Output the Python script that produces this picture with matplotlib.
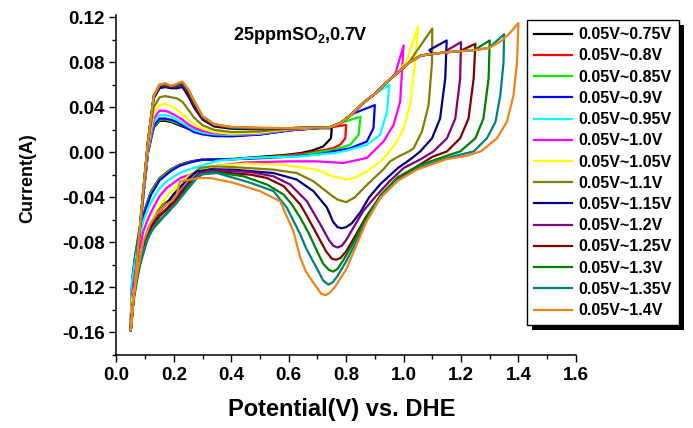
import numpy as np
import matplotlib.pyplot as plt
from matplotlib.patches import Rectangle
from matplotlib.ticker import MultipleLocator, FormatStrFormatter

plt.rcParams['font.family'] = ['Liberation Sans', 'DejaVu Sans']
plt.rcParams['font.weight'] = 'bold'
plt.rcParams['mathtext.fontset'] = 'custom'
plt.rcParams['mathtext.bf'] = 'Liberation Sans:bold'
plt.rcParams['mathtext.rm'] = 'Liberation Sans:bold'

labels = ['0.05V~0.75V', '0.05V~0.8V', '0.05V~0.85V', '0.05V~0.9V', '0.05V~0.95V',
          '0.05V~1.0V', '0.05V~1.05V', '0.05V~1.1V', '0.05V~1.15V', '0.05V~1.2V',
          '0.05V~1.25V', '0.05V~1.3V', '0.05V~1.35V', '0.05V~1.4V']
upper_limits = [0.75, 0.80, 0.85, 0.90, 0.95, 1.00, 1.05, 1.10, 1.15, 1.20, 1.25, 1.30, 1.35, 1.40]
colors = ['#000000', '#ff0000', '#00ee00', '#0000ff', '#00ffff', '#ff00ff', '#ffff00',
          '#808000', '#000080', '#800080', '#800000', '#008000', '#008080', '#f08418']

# anodic scan, hydrogen region (same potentials for every curve)
h_v = [0.05, 0.07, 0.09, 0.11, 0.13, 0.15, 0.17, 0.19, 0.21, 0.23, 0.25, 0.27, 0.30, 0.34, 0.40, 0.50, 0.60, 0.70]
h_i = [
    [-0.158, -0.102, -0.047, 0.000, 0.022, 0.028, 0.028, 0.027, 0.025, 0.023, 0.021, 0.019, 0.017, 0.0155, 0.0148, 0.016, 0.0195, 0.0215],
    [-0.158, -0.102, -0.047, 0.000, 0.023, 0.029, 0.029, 0.028, 0.026, 0.024, 0.021, 0.019, 0.017, 0.0155, 0.0148, 0.016, 0.0195, 0.0215],
    [-0.158, -0.102, -0.047, 0.001, 0.023, 0.029, 0.0295, 0.028, 0.026, 0.024, 0.022, 0.0195, 0.0172, 0.0158, 0.015, 0.0162, 0.0197, 0.0217],
    [-0.158, -0.102, -0.047, 0.001, 0.024, 0.030, 0.030, 0.029, 0.027, 0.024, 0.021, 0.018, 0.016, 0.0145, 0.0142, 0.0158, 0.0195, 0.0215],
    [-0.158, -0.102, -0.047, 0.002, 0.027, 0.033, 0.033, 0.032, 0.029, 0.026, 0.023, 0.020, 0.0175, 0.016, 0.0155, 0.0165, 0.020, 0.0218],
    [-0.158, -0.102, -0.047, 0.003, 0.030, 0.037, 0.037, 0.035, 0.032, 0.029, 0.025, 0.022, 0.019, 0.017, 0.016, 0.017, 0.020, 0.022],
    [-0.158, -0.102, -0.046, 0.005, 0.035, 0.042, 0.043, 0.041, 0.038, 0.034, 0.029, 0.025, 0.021, 0.018, 0.0165, 0.0175, 0.0205, 0.022],
    [-0.158, -0.101, -0.045, 0.008, 0.040, 0.049, 0.050, 0.049, 0.048, 0.045, 0.038, 0.031, 0.024, 0.020, 0.018, 0.0185, 0.021, 0.022],
    [-0.158, -0.100, -0.044, 0.010, 0.048, 0.057, 0.058, 0.057, 0.057, 0.058, 0.050, 0.040, 0.029, 0.023, 0.021, 0.0205, 0.0215, 0.022],
    [-0.158, -0.100, -0.044, 0.010, 0.050, 0.059, 0.059, 0.058, 0.059, 0.060, 0.053, 0.042, 0.030, 0.024, 0.022, 0.021, 0.0215, 0.022],
    [-0.158, -0.100, -0.044, 0.010, 0.050, 0.059, 0.060, 0.058, 0.059, 0.061, 0.054, 0.043, 0.031, 0.024, 0.022, 0.021, 0.0215, 0.022],
    [-0.158, -0.100, -0.043, 0.010, 0.050, 0.060, 0.060, 0.059, 0.060, 0.062, 0.055, 0.045, 0.032, 0.025, 0.022, 0.0215, 0.0215, 0.022],
    [-0.158, -0.100, -0.043, 0.010, 0.050, 0.060, 0.061, 0.059, 0.060, 0.062, 0.056, 0.046, 0.032, 0.025, 0.0225, 0.0215, 0.0215, 0.022],
    [-0.158, -0.100, -0.043, 0.010, 0.050, 0.060, 0.0615, 0.059, 0.061, 0.063, 0.056, 0.046, 0.032, 0.025, 0.0225, 0.022, 0.0215, 0.022],
]

# anodic scan, oxide region (shared path)
ox_v = [0.74, 0.78, 0.82, 0.86, 0.90, 0.94, 0.98, 1.02, 1.06, 1.10, 1.15, 1.20, 1.25, 1.30, 1.34, 1.37]
ox_i = [0.022, 0.026, 0.034, 0.044, 0.052, 0.062, 0.071, 0.080, 0.086, 0.0875, 0.089, 0.090, 0.091, 0.093, 0.099, 0.106]

# turning point and cathodic scan back to 0.05 V
ret_v = [
    [0.75, 0.747, 0.72, 0.68, 0.64, 0.58, 0.52, 0.41, 0.30, 0.26, 0.22, 0.19, 0.15, 0.12, 0.10, 0.08, 0.065, 0.055, 0.05],
    [0.80, 0.797, 0.78, 0.756, 0.70, 0.663, 0.60, 0.524, 0.41, 0.30, 0.26, 0.22, 0.19, 0.15, 0.12, 0.10, 0.08, 0.065, 0.055, 0.05],
    [0.85, 0.843, 0.814, 0.756, 0.70, 0.64, 0.52, 0.41, 0.30, 0.26, 0.22, 0.19, 0.15, 0.12, 0.10, 0.08, 0.065, 0.055, 0.05],
    [0.90, 0.895, 0.872, 0.814, 0.75, 0.698, 0.60, 0.524, 0.41, 0.29, 0.26, 0.22, 0.19, 0.15, 0.12, 0.10, 0.08, 0.065, 0.055, 0.05],
    [0.95, 0.942, 0.918, 0.872, 0.80, 0.756, 0.64, 0.466, 0.35, 0.29, 0.25, 0.22, 0.175, 0.15, 0.129, 0.11, 0.094, 0.071, 0.053, 0.05],
    [0.97, 1.00, 0.988, 0.965, 0.93, 0.872, 0.79, 0.698, 0.60, 0.45, 0.35, 0.29, 0.222, 0.175, 0.15, 0.129, 0.11, 0.094, 0.071, 0.055, 0.05],
    [1.01, 1.05, 1.04, 1.023, 1.00, 0.977, 0.942, 0.92, 0.872, 0.83, 0.80, 0.75, 0.698, 0.582, 0.45, 0.35, 0.30, 0.257, 0.21, 0.175, 0.15, 0.129, 0.11, 0.094, 0.071, 0.055, 0.05],
    [1.04, 1.10, 1.099, 1.087, 1.064, 1.035, 1.02, 0.98, 0.953, 0.93, 0.872, 0.83, 0.80, 0.77, 0.745, 0.686, 0.628, 0.547, 0.40, 0.33, 0.291, 0.26, 0.233, 0.215, 0.198, 0.163, 0.145, 0.129, 0.11, 0.094, 0.071, 0.053, 0.05],
    [1.09, 1.15, 1.145, 1.127, 1.099, 1.058, 1.03, 0.98, 0.92, 0.88, 0.85, 0.82, 0.80, 0.785, 0.77, 0.755, 0.733, 0.686, 0.628, 0.547, 0.407, 0.33, 0.28, 0.24, 0.20, 0.17, 0.14, 0.11, 0.085, 0.065, 0.05],
    [1.15, 1.20, 1.197, 1.18, 1.151, 1.104, 1.06, 1.00, 0.95, 0.90, 0.86, 0.825, 0.80, 0.785, 0.77, 0.755, 0.74, 0.71, 0.663, 0.605, 0.547, 0.466, 0.35, 0.29, 0.25, 0.21, 0.175, 0.15, 0.12, 0.10, 0.08, 0.06, 0.05],
    [1.20, 1.25, 1.244, 1.226, 1.197, 1.151, 1.10, 1.05, 0.98, 0.92, 0.87, 0.83, 0.80, 0.78, 0.765, 0.75, 0.73, 0.698, 0.66, 0.64, 0.582, 0.524, 0.466, 0.35, 0.30, 0.25, 0.21, 0.175, 0.15, 0.12, 0.10, 0.08, 0.06, 0.05],
    [1.25, 1.30, 1.296, 1.278, 1.25, 1.197, 1.15, 1.05, 0.98, 0.92, 0.87, 0.83, 0.79, 0.77, 0.755, 0.74, 0.72, 0.698, 0.67, 0.64, 0.61, 0.582, 0.524, 0.443, 0.338, 0.29, 0.25, 0.21, 0.175, 0.157, 0.12, 0.105, 0.08, 0.06, 0.05],
    [1.30, 1.35, 1.348, 1.337, 1.32, 1.29, 1.244, 1.15, 1.05, 0.98, 0.92, 0.87, 0.84, 0.80, 0.77, 0.752, 0.738, 0.72, 0.70, 0.686, 0.66, 0.64, 0.593, 0.547, 0.466, 0.35, 0.29, 0.233, 0.175, 0.14, 0.105, 0.076, 0.06, 0.05],
    [1.37, 1.40, 1.395, 1.383, 1.36, 1.325, 1.27, 1.22, 1.15, 1.05, 0.98, 0.92, 0.87, 0.84, 0.80, 0.76, 0.742, 0.727, 0.712, 0.70, 0.686, 0.66, 0.64, 0.616, 0.57, 0.50, 0.407, 0.327, 0.29, 0.222, 0.21, 0.193, 0.175, 0.14, 0.117, 0.094, 0.076, 0.059, 0.05],
]
ret_i = [
    [0.0214, 0.0125, 0.0052, 0.0015, -0.0007, -0.0025, -0.0036, -0.0058, -0.0065, -0.008, -0.011, -0.015, -0.023, -0.035, -0.050, -0.069, -0.092, -0.113, -0.150],
    [0.0244, 0.0125, 0.0070, 0.0037, 0.0010, -0.0007, -0.0025, -0.0045, -0.006, -0.0065, -0.0082, -0.0112, -0.0152, -0.0232, -0.0355, -0.0505, -0.0695, -0.093, -0.113, -0.151],
    [0.0317, 0.0155, 0.0067, 0.0023, 0.0, -0.0027, -0.0045, -0.0062, -0.0068, -0.0085, -0.0115, -0.0155, -0.0238, -0.036, -0.051, -0.070, -0.093, -0.114, -0.151],
    [0.042, 0.0214, 0.0096, 0.0037, 0.0005, -0.002, -0.0038, -0.005, -0.006, -0.0068, -0.0088, -0.012, -0.0165, -0.025, -0.038, -0.052, -0.072, -0.095, -0.115, -0.152],
    [0.060, 0.036, 0.0155, 0.0067, 0.0015, -0.0007, -0.0036, -0.005, -0.0075, -0.0125, -0.0155, -0.0184, -0.0257, -0.032, -0.0405, -0.050, -0.061, -0.0875, -0.117, -0.150],
    [0.069, 0.095, 0.045, 0.0244, 0.0096, -0.005, -0.0095, -0.008, -0.008, -0.009, -0.012, -0.0169, -0.0228, -0.0316, -0.039, -0.049, -0.059, -0.070, -0.0964, -0.125, -0.152],
    [0.081, 0.112, 0.080, 0.042, 0.0214, 0.0096, -0.002, -0.008, -0.0169, -0.0225, -0.0242, -0.021, -0.0154, -0.011, -0.010, -0.012, -0.015, -0.0198, -0.030, -0.039, -0.048, -0.058, -0.068, -0.0816, -0.108, -0.130, -0.153],
    [0.088, 0.110, 0.080, 0.042, 0.0185, 0.0037, 0.001, -0.004, -0.008, -0.015, -0.029, -0.040, -0.0443, -0.042, -0.0375, -0.0257, -0.0184, -0.0154, -0.013, -0.0125, -0.014, -0.020, -0.0286, -0.035, -0.0405, -0.046, -0.052, -0.061, -0.071, -0.0846, -0.114, -0.1435, -0.155],
    [0.091, 0.0995, 0.0655, 0.030, 0.0125, 0.0008, -0.005, -0.014, -0.028, -0.040, -0.053, -0.063, -0.0665, -0.0675, -0.0665, -0.062, -0.049, -0.0345, -0.0242, -0.0184, -0.0154, -0.015, -0.017, -0.026, -0.037, -0.047, -0.056, -0.069, -0.091, -0.116, -0.155],
    [0.0905, 0.098, 0.0655, 0.030, 0.0125, 0.0008, -0.006, -0.014, -0.026, -0.040, -0.052, -0.067, -0.078, -0.083, -0.0846, -0.083, -0.078, -0.064, -0.0434, -0.0286, -0.0213, -0.0175, -0.016, -0.018, -0.027, -0.040, -0.050, -0.056, -0.066, -0.078, -0.098, -0.127, -0.155],
    [0.0905, 0.0965, 0.0655, 0.030, 0.0125, 0.0008, -0.004, -0.012, -0.024, -0.039, -0.057, -0.075, -0.088, -0.094, -0.0955, -0.0945, -0.088, -0.0728, -0.055, -0.0463, -0.030, -0.0228, -0.0198, -0.0175, -0.019, -0.029, -0.042, -0.051, -0.057, -0.067, -0.078, -0.098, -0.127, -0.155],
    [0.0915, 0.0995, 0.0655, 0.030, 0.0125, 0.0008, -0.003, -0.012, -0.022, -0.038, -0.058, -0.078, -0.096, -0.1035, -0.106, -0.1045, -0.099, -0.0875, -0.072, -0.058, -0.046, -0.0375, -0.0286, -0.0213, -0.0175, -0.020, -0.030, -0.0449, -0.0537, -0.0595, -0.070, -0.080, -0.102, -0.130, -0.155],
    [0.0935, 0.105, 0.080, 0.051, 0.027, 0.0125, 0.0008, -0.005, -0.014, -0.025, -0.040, -0.061, -0.077, -0.097, -0.110, -0.1158, -0.1176, -0.114, -0.104, -0.0975, -0.085, -0.0728, -0.049, -0.0345, -0.027, -0.0184, -0.0198, -0.0375, -0.055, -0.062, -0.079, -0.104, -0.127, -0.155],
    [0.106, 0.115, 0.080, 0.051, 0.0273, 0.0125, 0.001, -0.003, -0.006, -0.015, -0.025, -0.040, -0.062, -0.080, -0.104, -0.120, -0.125, -0.127, -0.1255, -0.121, -0.116, -0.106, -0.0935, -0.070, -0.0434, -0.0345, -0.027, -0.0228, -0.0228, -0.0257, -0.0375, -0.0434, -0.046, -0.055, -0.064, -0.079, -0.102, -0.129, -0.157],
]

fig = plt.figure(figsize=(6.93, 4.28), dpi=100)
ax = fig.add_axes([0.168, 0.171, 0.663, 0.795])

handles = []
for k in range(len(labels)):
    lim = upper_limits[k]
    ox_sel = [j for j in range(len(ox_v)) if ox_v[j] < lim - 0.049]
    v = list(h_v) + [ox_v[j] for j in ox_sel] + ret_v[k]
    i = list(h_i[k]) + [ox_i[j] for j in ox_sel] + ret_i[k]
    line, = ax.plot(v, i, color=colors[k], lw=1.6, solid_joinstyle='round')
    handles.append(line)

ax.set_xlim(0.0, 1.6)
ax.set_ylim(-0.18, 0.1225)
ax.xaxis.set_major_locator(MultipleLocator(0.2))
ax.xaxis.set_minor_locator(MultipleLocator(0.1))
ax.yaxis.set_minor_locator(MultipleLocator(0.02))
ax.xaxis.set_major_formatter(FormatStrFormatter('%.1f'))
ax.yaxis.set_major_formatter(FormatStrFormatter('%.2f'))
ax.set_yticks(np.arange(-0.16, 0.121, 0.04))
ax.spines['top'].set_visible(False)
ax.spines['right'].set_visible(False)
for s in ('left', 'bottom'):
    ax.spines[s].set_linewidth(1.1)
ax.tick_params(which='major', direction='out', length=5, width=1.0, labelsize=13.5)
ax.tick_params(which='minor', direction='out', length=3, width=1.0)
for t in ax.get_xticklabels() + ax.get_yticklabels():
    t.set_fontweight('bold')

ax.set_xlabel('Potential(V) vs. DHE', fontsize=17, fontweight='bold')
ax.set_ylabel('Current(A)', fontsize=13, fontweight='bold')
ax.xaxis.set_label_coords(0.49, -0.128)
ax.yaxis.set_label_coords(-0.175, 0.52)

ax.text(0.64, 0.104, r'25ppmSO$_\mathbf{2}$,0.7V', fontsize=13, fontweight='bold',
        ha='center', va='center')

leg = fig.legend(handles, labels, loc='upper left', bbox_to_anchor=(527 / 693, 1 - 20 / 428),
                 bbox_transform=fig.transFigure, borderaxespad=0,
                 prop={'weight': 'bold', 'size': 11.5}, handlelength=2.35, handletextpad=0.4,
                 labelspacing=0.39, borderpad=0.45, fancybox=False, framealpha=1,
                 edgecolor='black')
leg.get_frame().set_linewidth(1.0)
for lh in leg.get_lines():
    lh.set_linewidth(1.6)

fig.canvas.draw()
bb = leg.get_window_extent()
shadow = Rectangle((bb.x0 + 5, bb.y0 - 5), bb.width, bb.height, transform=None,
                   facecolor='black', edgecolor='none', zorder=leg.get_zorder() - 0.1)
fig.add_artist(shadow)

fig.savefig('out.png', dpi=100)
